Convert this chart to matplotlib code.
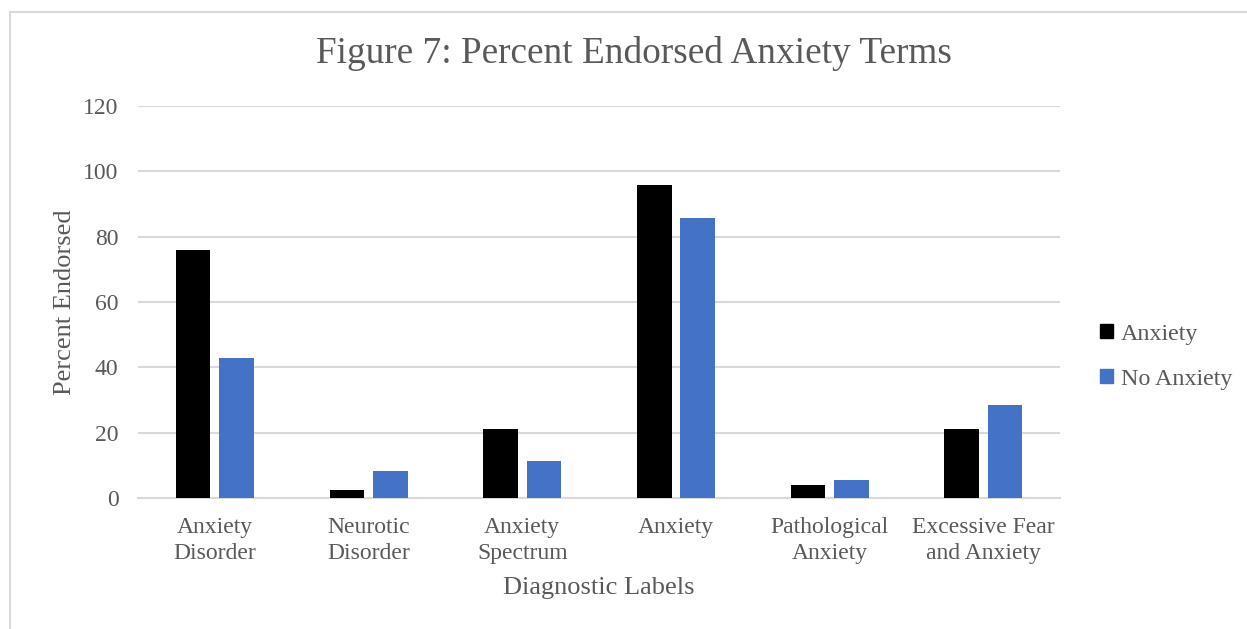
import numpy as np
import matplotlib.pyplot as plt
from matplotlib.patches import Patch
from matplotlib.lines import Line2D

# Percent of respondents endorsing each diagnostic label
labels = ["Anxiety\nDisorder", "Neurotic\nDisorder", "Anxiety\nSpectrum",
          "Anxiety", "Pathological\nAnxiety", "Excessive Fear\nand Anxiety"]
anxiety = [76.0, 2.5, 21.1, 95.9, 3.9, 21.1]
no_anxiety = [42.8, 8.4, 11.3, 85.6, 5.6, 28.4]

plt.rcParams['font.family'] = ['Liberation Serif', 'DejaVu Serif']
text_col = '#595959'
grid_col = '#d9d9d9'

fig = plt.figure(figsize=(12.47, 6.29), dpi=100)
ax = fig.add_axes([0.1107, 0.2083, 0.7394, 0.6232])

x = np.arange(len(labels))
w = 0.225
ax.bar(x - 0.141, anxiety, w, color='black', label='Anxiety', zorder=3)
ax.bar(x + 0.141, no_anxiety, w, color='#4472c4', label='No Anxiety', zorder=3)

ax.set_xlim(-0.5, len(labels) - 0.5)
ax.set_ylim(0, 120)
ax.set_yticks(range(0, 121, 20))
ax.yaxis.grid(True, color=grid_col, linewidth=1.5, zorder=0)
for s in ['top', 'right', 'left']:
    ax.spines[s].set_visible(False)
ax.spines['bottom'].set_color(grid_col)
ax.spines['bottom'].set_linewidth(1.5)
ax.tick_params(length=0, labelsize=17, labelcolor=text_col)
ax.tick_params(axis='y', pad=14)
ax.tick_params(axis='x', pad=14)
ax.set_xticks(x)
ax.set_xticklabels(labels, linespacing=1.3)

ax.set_ylabel("Percent Endorsed", fontsize=19, color=text_col, labelpad=5)
ax.set_xlabel("Diagnostic Labels", fontsize=19, color=text_col, labelpad=9)
fig.text(0.508, 0.915, "Figure 7: Percent Endorsed Anxiety Terms",
         ha='center', va='center', fontsize=26.8, color=text_col)

handles = [Patch(color='black'), Patch(color='#4472c4')]
fig.legend(handles, ['Anxiety', 'No Anxiety'], loc='center left',
           bbox_to_anchor=(0.865, 0.433), frameon=False, fontsize=17.3,
           handlelength=0.55, handleheight=0.55, handletextpad=0.3,
           labelspacing=1.0, labelcolor=text_col)

# light frame along the top and left edges
fig.add_artist(Line2D([0.008, 1.0], [0.981, 0.981], color=grid_col, lw=1.5,
                      transform=fig.transFigure))
fig.add_artist(Line2D([0.008, 0.008], [0.0, 0.981], color=grid_col, lw=1.5,
                      transform=fig.transFigure))

fig.savefig("out.png", dpi=100)
